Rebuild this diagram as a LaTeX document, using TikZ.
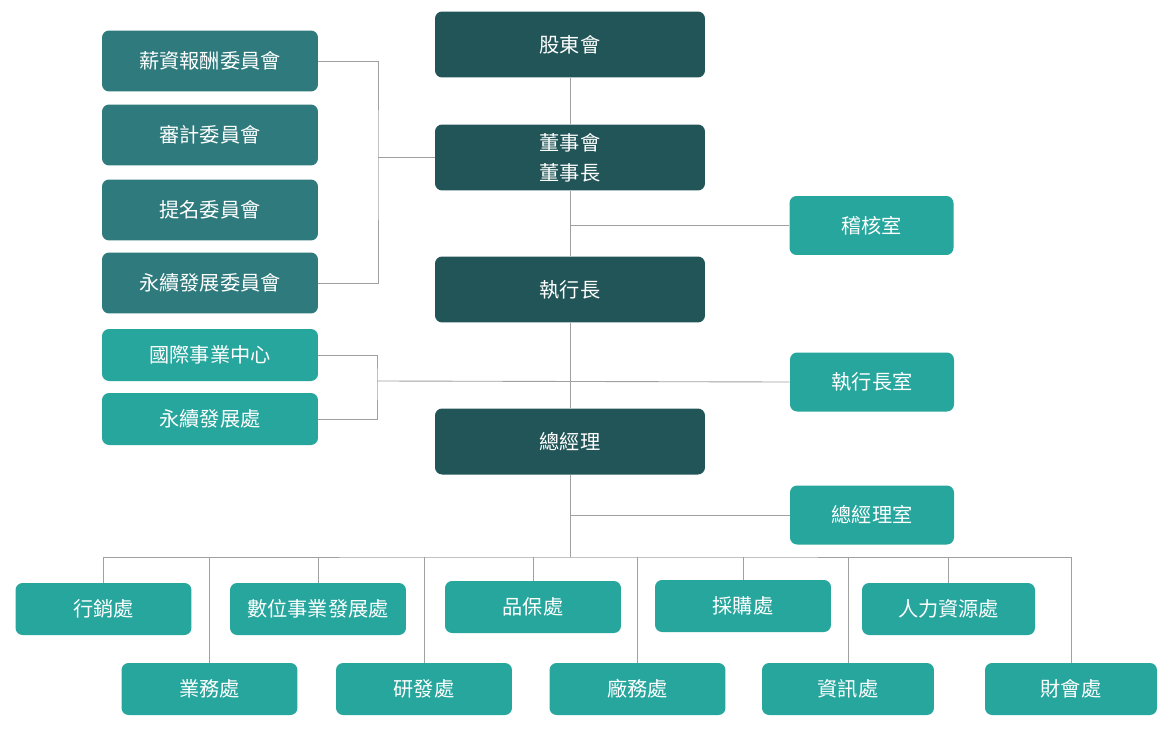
\documentclass[tikz,border=0pt]{standalone}
\usepackage{fontspec}
\newfontfamily\cjk{Noto Sans CJK TC}
\usetikzlibrary{positioning, calc, backgrounds}
\definecolor{darkteal}{HTML}{225558}
\definecolor{midteal}{HTML}{2E7A7D}
\definecolor{lightteal}{HTML}{26A69D}
\definecolor{linegray}{HTML}{A0A0A0}

\begin{document}
\begin{tikzpicture}[
    x=0.02cm, y=-0.02cm,
    font=\cjk\fontsize{11.5}{17}\selectfont,
    box/.style={
        rectangle,
        rounded corners=4pt,
        text=white,
        align=center,
        inner sep=0pt
    },
    head/.style={box, fill=darkteal, minimum width=5.4cm, minimum height=1.32cm},
    comm/.style={box, fill=midteal, minimum width=4.32cm, minimum height=1.22cm},
    unit/.style={box, fill=lightteal, minimum width=4.32cm, minimum height=1.04cm},
    office/.style={box, fill=lightteal, minimum width=3.28cm, minimum height=1.18cm},
    dept/.style={box, fill=lightteal, minimum width=3.52cm, minimum height=1.04cm},
    link/.style={draw=linegray, line width=0.5pt}
]
    \useasboundingbox (0,0) rectangle (1172,730);

    % Main chain
    \node[head] (gm) at (570,44.5) {股東會};
    \node[head] (board) at (570,157.5) {董事會\\董事長};
    \node[head] (ceo) at (570,289.5) {執行長};
    \node[head] (pres) at (570,441.5) {總經理};

    % Committees
    \node[comm] (pay) at (210,61) {薪資報酬委員會};
    \node[comm] (audit) at (210,135) {審計委員會};
    \node[comm] (nom) at (210,210) {提名委員會};
    \node[comm] (esgc) at (210,283) {永續發展委員會};

    % CEO units
    \node[unit] (intl) at (210,355) {國際事業中心};
    \node[unit] (esgd) at (210,419) {永續發展處};

    % Offices
    \node[office] (aud) at (871.5,225.5) {稽核室};
    \node[office] (ceoo) at (872,382) {執行長室};
    \node[office] (preso) at (872,515) {總經理室};

    % Departments, upper row
    \node[dept] (mkt) at (103.5,609) {行銷處};
    \node[dept] (dig) at (318,609) {數位事業發展處};
    \node[dept] (qa) at (533,607) {品保處};
    \node[dept] (buy) at (743,606) {採購處};
    \node[dept, minimum width=3.46cm] (hr) at (948.5,609) {人力資源處};

    % Departments, lower row
    \node[dept] (sales) at (209.5,689) {業務處};
    \node[dept] (rd) at (424,689) {研發處};
    \node[dept] (fac) at (637.5,689) {廠務處};
    \node[dept, minimum width=3.44cm] (it) at (848,689) {資訊處};
    \node[dept, minimum width=3.44cm] (fin) at (1071,689) {財會處};

    % Connectors
    \begin{scope}[on background layer]
        \coordinate (cbus) at (378,157.5);
        \coordinate (ubus) at (377,381);
        \coordinate (dbus) at (570,557);
        \draw[link] (gm.south) -- (board.north);
        \draw[link] (board.south) -- (ceo.north);
        \draw[link] (ceo.south) -- (pres.north);
        \draw[link] (pres.south) -- (dbus);
        \draw[link] (pay.east) -| (cbus) |- (esgc.east);
        \draw[link] (cbus) -- (board.west);
        \draw[link] (intl.east) -| (ubus) |- (esgd.east);
        \draw[link] (ubus) -- (ceoo.west);
        \draw[link] (aud.west) -- (aud.west -| board.south);
        \draw[link] (preso.west) -- (preso.west -| pres.south);
        \draw[link] (mkt.north) |- (dbus) -| (fin.north);
        \foreach \d in {dig, qa, buy, hr, sales, rd, fac, it}
            \draw[link] (\d.north) -- (\d.north |- dbus);
    \end{scope}
\end{tikzpicture}
\end{document}
